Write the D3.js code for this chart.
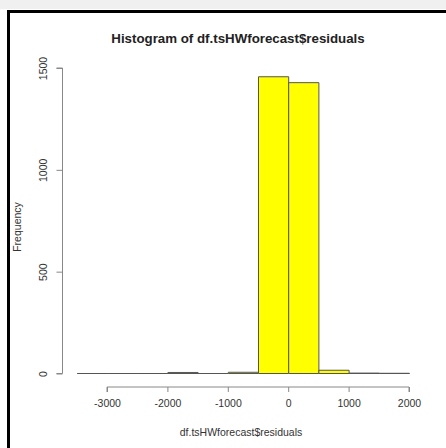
<!DOCTYPE html>
<html>
<head>
<meta charset="utf-8">
<script src="https://cdn.jsdelivr.net/npm/d3@7"></script>
<style>
  body { margin: 0; background: #fff; }
  svg { display: block; font-family: "Liberation Sans", Arial, sans-serif; }
</style>
</head>
<body>
<svg id="chart" width="446" height="448"></svg>
<script>
// histogram bins (left edges) and counts, width 500
const binStarts = [-3500, -3000, -2500, -2000, -1500, -1000, -500, 0, 500, 1000, 1500];
const counts    = [0, 0, 0, 5, 0, 6, 1457, 1428, 16, 2, 1];
const binWidth = 500;
const xTicks = [-3000, -2000, -1000, 0, 1000, 2000];
const yTicks = [0, 500, 1000, 1500];

const svg = d3.select("#chart");

// window chrome: grey band and black frame
svg.append("rect").attr("x", 0).attr("y", 0).attr("width", 446).attr("height", 9).attr("fill", "#f0f0f0");
svg.append("rect").attr("x", 7).attr("y", 10).attr("width", 439).attr("height", 3).attr("fill", "#000");
svg.append("rect").attr("x", 7).attr("y", 10).attr("width", 3).attr("height", 438).attr("fill", "#000");

const x = d3.scaleLinear().domain([-3000, 2000]).range([107, 409]);
const y = d3.scaleLinear().domain([0, 1500]).range([373.5, 68]);

// bars as closed paths so empty bins still show their outline
svg.append("g").selectAll("path")
  .data(binStarts.map((s, i) => ({ s, n: counts[i] })))
  .join("path")
    .attr("d", d => {
      const x0 = x(d.s) + 0.5, x1 = x(d.s + binWidth) + 0.5;
      return `M${x0},${y(0)}V${y(d.n)}H${x1}V${y(0)}Z`;
    })
    .attr("fill", "#ffff00")
    .attr("stroke", "#555")
    .attr("stroke-width", 1);

// x axis (R style: offset below plot)
const xAxis = svg.append("g")
  .attr("transform", "translate(0,387)")
  .call(d3.axisBottom(x).tickValues(xTicks).tickSize(5).tickPadding(8).tickFormat(d3.format("d")));
xAxis.select(".domain").attr("stroke", "#888").attr("d", `M${x(-3000)},5V0H${x(2000)}V5`);
xAxis.selectAll(".tick line").attr("stroke", "#888");
xAxis.selectAll(".tick text").attr("fill", "#333").attr("font-size", 10.5)
  .text(d => d3.format("d")(d).replace("−", "-"));

// y axis
const yAxis = svg.append("g")
  .attr("transform", "translate(62.5,0)")
  .call(d3.axisLeft(y).tickValues(yTicks).tickSize(6).tickFormat(d3.format("d")));
yAxis.select(".domain").attr("stroke", "#888").attr("d", `M-6,${y(0)}H0V${y(1500)}H-6`);
yAxis.selectAll(".tick line").attr("stroke", "#888");
yAxis.selectAll(".tick text")
  .attr("fill", "#333").attr("font-size", 10.5)
  .attr("text-anchor", "middle")
  .attr("x", null)
  .attr("transform", "translate(-19,0) rotate(-90)")
  .attr("dy", "0.35em");

// title and labels
svg.append("text")
  .attr("x", 238).attr("y", 43)
  .attr("text-anchor", "middle")
  .attr("font-weight", "bold").attr("font-size", 13.3).attr("fill", "#222")
  .text("Histogram of df.tsHWforecast$residuals");

svg.append("text")
  .attr("x", 241).attr("y", 436)
  .attr("text-anchor", "middle")
  .attr("font-size", 10.5).attr("fill", "#333")
  .text("df.tsHWforecast$residuals");

svg.append("text")
  .attr("transform", "translate(21,227) rotate(-90)")
  .attr("text-anchor", "middle")
  .attr("font-size", 10.5).attr("fill", "#333")
  .text("Frequency");
</script>
</body>
</html>
